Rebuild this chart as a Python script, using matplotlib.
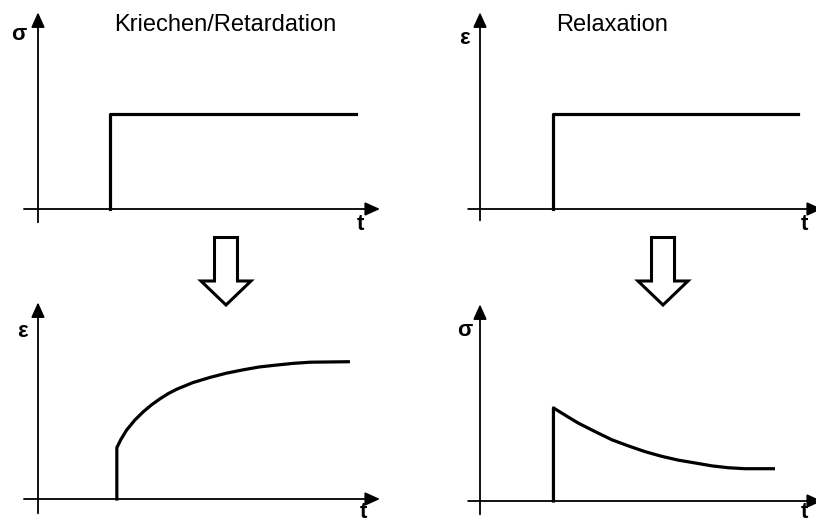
import matplotlib
matplotlib.use("Agg")
import matplotlib.pyplot as plt
import matplotlib.patches as mpatches

plt.rcParams['font.family'] = ['Liberation Sans', 'DejaVu Sans']

W, H = 816, 522
# data (t in arbitrary units, values relative)
creep_load_t = [2.0, 2.0, 8.83]
creep_load_sigma = [0.0, 1.0, 1.0]
relax_load_t = [2.03, 2.03, 8.83]
relax_load_eps = [0.0, 1.0, 1.0]
creep_resp_t = [2.19, 2.19, 2.30, 2.46, 2.70, 2.93, 3.15, 3.39, 3.62, 3.85, 4.30, 4.78,
                5.24, 5.70, 6.15, 6.63, 7.10, 7.56, 8.62]
creep_resp_eps = [0.0, 0.54, 0.625, 0.725, 0.835, 0.92, 0.99, 1.055, 1.11, 1.155, 1.225, 1.28,
                  1.325, 1.36, 1.39, 1.41, 1.428, 1.44, 1.445]
relax_resp_t = [2.04, 2.04, 2.38, 2.73, 3.20, 3.66, 4.12, 4.58, 5.05, 5.51, 5.98, 6.44,
                6.90, 7.36, 8.15]
relax_resp_sigma = [0.0, 0.98, 0.90, 0.82, 0.73, 0.645, 0.58, 0.52, 0.47, 0.43, 0.40, 0.37,
                    0.35, 0.34, 0.34]

titles = ["Kriechen/Retardation", "Relaxation"]

SX, SY = 36.0, 95.0  # px per data unit
XL, YL = (-0.6, 9.7), (-0.3, 2.1)

fig = plt.figure(figsize=(W / 100, H / 100), dpi=100)


def make_axes(ox, oy):
    left = ox + XL[0] * SX
    right = ox + XL[1] * SX
    top = oy - YL[1] * SY
    bottom = oy - YL[0] * SY
    ax = fig.add_axes([left / W, 1 - bottom / H, (right - left) / W, (bottom - top) / H])
    ax.set_xlim(*XL)
    ax.set_ylim(*YL)
    ax.axis('off')
    return ax


def draw_frame(ax, xstart, ystart, ylabel, ylab_pos, tlab_pos):
    ap = dict(arrowstyle='-|>,head_length=0.6,head_width=0.27', lw=1.3, color='black',
              shrinkA=0, shrinkB=0, mutation_scale=15)
    ax.annotate('', xy=(9.5, 0), xytext=(xstart, 0), arrowprops=ap, annotation_clip=False)
    ax.annotate('', xy=(0, 2.07), xytext=(0, ystart), arrowprops=ap, annotation_clip=False)
    ax.text(*ylab_pos, ylabel, fontsize=16, fontweight='bold', ha='center', va='center')
    ax.text(*tlab_pos, 't', fontsize=16, fontweight='bold', ha='center', va='center', clip_on=False)


lw = 2.3
kw = dict(color='black', lw=lw, solid_joinstyle='round', clip_on=False)
ax1 = make_axes(38, 209)
draw_frame(ax1, -0.39, -0.14, 'σ', (-0.53, 1.84), (8.97, -0.16))
ax1.plot(creep_load_t, creep_load_sigma, **kw)
ax1.text(5.19, 1.94, titles[0], fontsize=17, ha='center', va='center')

ax2 = make_axes(480, 209)
draw_frame(ax2, -0.33, -0.12, 'ε', (-0.44, 1.79), (9.0, -0.16))
ax2.plot(relax_load_t, relax_load_eps, **kw)
ax2.text(3.67, 1.94, titles[1], fontsize=17, ha='center', va='center')

ax3 = make_axes(38, 499)
draw_frame(ax3, -0.39, -0.15, 'ε', (-0.44, 1.76), (9.03, -0.145))
ax3.plot(creep_resp_t, creep_resp_eps, **kw)

ax4 = make_axes(480, 501)
draw_frame(ax4, -0.33, -0.14, 'σ', (-0.42, 1.79), (9.0, -0.125))
ax4.plot(relax_resp_t, relax_resp_sigma, **kw)

# big hollow down arrows between the rows (overlay in pixel coordinates)
ov = fig.add_axes([0, 0, 1, 1], facecolor='none')
ov.set_xlim(0, W)
ov.set_ylim(H, 0)
ov.axis('off')
for cx in (226, 663):
    pts = [(cx - 11.5, 237.5), (cx + 11.5, 237.5), (cx + 11.5, 281), (cx + 25, 281),
           (cx, 305), (cx - 25, 281), (cx - 11.5, 281)]
    ov.add_patch(mpatches.Polygon(pts, closed=True, facecolor='white', edgecolor='black',
                                  lw=2.2, joinstyle='miter'))

fig.savefig('out.png', dpi=100)
